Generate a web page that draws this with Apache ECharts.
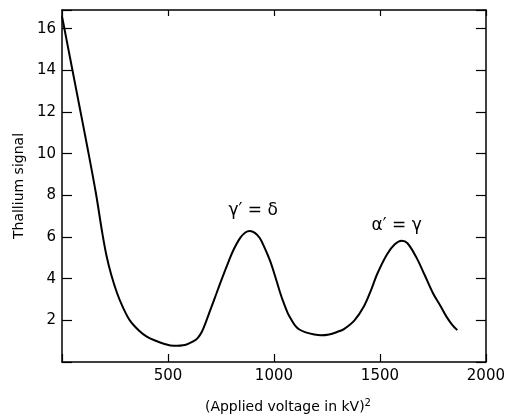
<!DOCTYPE html>
<html><head><meta charset="utf-8">
<script src="https://cdn.jsdelivr.net/npm/echarts@6/dist/echarts.min.js"></script>
<style>html,body{margin:0;padding:0;background:#fff}#c{width:508px;height:419px}</style>
</head><body><div id="c"></div>
<script>
const voltageSq = [0,40,80,120,160,190,210,232,260,286,320,364,400,442,480,528,580,621,640,660,680,700,729,760,785,810,840,865,886,910,933,955,980,1000,1027,1042,1065,1081,1100,1120,1150,1190,1221,1260,1300,1330,1380,1424,1460,1486,1533,1570,1603,1630,1673,1710,1751,1785,1813,1840,1865];
const signal    = [16.6,14.5,12.4,10.3,8.1,6.2,5.1,4.2,3.3,2.66,2.0,1.5,1.22,1.02,0.88,0.78,0.82,1.0,1.15,1.45,1.95,2.5,3.3,4.15,4.8,5.4,5.95,6.22,6.29,6.2,5.95,5.5,4.9,4.3,3.4,2.95,2.35,2.05,1.75,1.56,1.42,1.32,1.28,1.32,1.45,1.58,2.0,2.66,3.5,4.2,5.16,5.65,5.82,5.7,5.0,4.2,3.29,2.7,2.19,1.8,1.53];
const xTicks = [500,1000,1500,2000];
const yTicks = [2,4,6,8,10,12,14,16];
const annotations = [{x:902, y:7.28, text:'γ′ = δ'},{x:1579, y:6.57, text:'α′ = γ'}];

const font = 'DejaVu Sans';
const chart = echarts.init(document.getElementById('c'), null, {renderer:'canvas'});
const axLine = {show:true, onZero:false, lineStyle:{color:'#000', width:1.5}};
chart.setOption({
  animation:false,
  backgroundColor:'#fff',
  grid:{left:62, right:18, top:10, bottom:49},
  xAxis:[{
    type:'value', position:'bottom', min:0, max:2000, interval:500,
    axisLine:axLine,
    axisTick:{show:true, inside:true, length:8, lineStyle:{color:'#000', width:1.2}},
    axisLabel:{color:'#000', fontFamily:font, fontSize:15, margin:7,
      formatter:v => xTicks.includes(v) ? String(v) : ''},
    splitLine:{show:false},
    name:'{a|(Applied voltage in kV)}{s|2}', nameLocation:'middle', nameGap:36,
    nameTextStyle:{padding:[0,0,0,28], rich:{a:{fontFamily:font, fontSize:14, color:'#000'}, s:{fontFamily:font, fontSize:10, color:'#000', verticalAlign:'top', padding:[0,0,8,0]}}}
  },{
    type:'value', position:'top', min:0, max:2000, interval:500,
    axisLine:axLine,
    axisTick:{show:true, inside:true, length:6, lineStyle:{color:'#000', width:1.2}},
    axisLabel:{show:false}, splitLine:{show:false}
  }],
  yAxis:[{
    type:'value', position:'left', min:0, max:16.9, interval:2,
    axisLine:axLine,
    axisTick:{show:true, inside:true, length:10, lineStyle:{color:'#000', width:1.2}},
    axisLabel:{color:'#000', fontFamily:font, fontSize:15, margin:6,
      formatter:v => yTicks.includes(v) ? String(v) : ''},
    splitLine:{show:false},
    name:'Thallium signal', nameLocation:'middle', nameGap:30,
    nameTextStyle:{fontFamily:font, fontSize:14, color:'#000'}
  },{
    type:'value', position:'right', min:0, max:16.9, interval:2,
    axisLine:axLine,
    axisTick:{show:true, inside:true, length:10, lineStyle:{color:'#000', width:1.2}},
    axisLabel:{show:false}, splitLine:{show:false}
  }],
  series:[{
    type:'line', xAxisIndex:0, yAxisIndex:0,
    data: voltageSq.map((v,i)=>[v, signal[i]]),
    smooth:0.35, showSymbol:false,
    lineStyle:{color:'#000', width:2},
    markPoint:{
      symbol:'circle', symbolSize:0,
      label:{show:true, position:'inside', color:'#000', fontFamily:font, fontSize:17, formatter:p=>p.name},
      data: annotations.map(a=>({name:a.text, coord:[a.x, a.y]}))
    }
  }]
});
</script></body></html>
